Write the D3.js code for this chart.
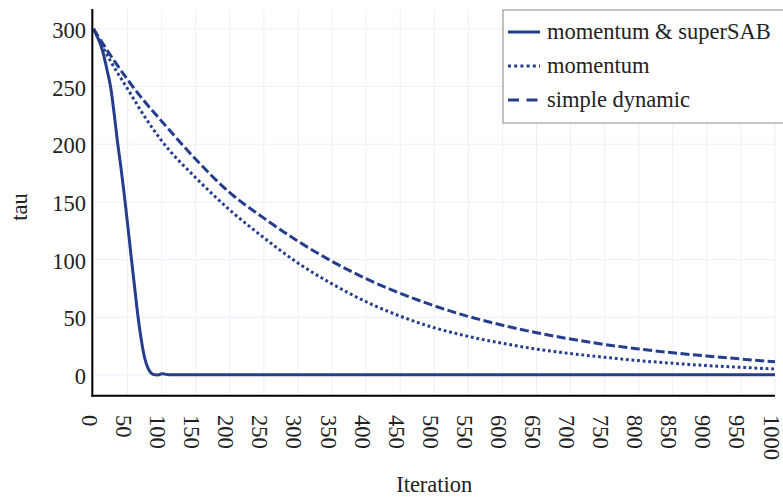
<!DOCTYPE html>
<html>
<head>
<meta charset="utf-8">
<script src="https://cdn.jsdelivr.net/npm/d3@7"></script>
<style>
  html, body { margin: 0; padding: 0; background: #fff; }
</style>
</head>
<body>
<svg id="chart" width="783" height="502" font-family="'Liberation Serif', Tinos, 'Times New Roman', Times, 'Nimbus Roman', 'Nimbus Roman No9 L', FreeSerif, 'Noto Serif', 'DejaVu Serif', serif"></svg>
<script>
// ---- data ----
const seriesNames = ["momentum & superSAB", "momentum", "simple dynamic"];

const superSabIter = [0, 5, 10, 15, 20, 25, 30, 35, 40, 45, 50, 55, 60, 65, 70, 75, 80, 85, 90, 95, 100, 105, 110, 120, 200, 400, 600, 800, 1000];
const superSabTau  = [300, 294, 287, 277, 264, 250, 228, 203, 181, 157, 131, 104, 78, 52, 31, 15, 6, 1.5, 0.2, 0.1, 1.1, 0.8, 0.3, 0.2, 0.2, 0.2, 0.2, 0.2, 0.2];

const iterations   = [0, 25, 50, 75, 100, 150, 200, 250, 300, 350, 400, 450, 500, 550, 600, 650, 700, 750, 800, 850, 900, 950, 1000];
const momentumTau  = [300, 272, 248, 224, 203, 171, 143, 119, 97, 79, 63.5, 51, 41, 33.5, 27.5, 22.5, 18.6, 15.4, 12.5, 10.2, 8.2, 6.7, 5.2];
const dynamicTau   = [300, 277, 256, 237, 220, 187, 158, 136, 116, 98.5, 83.5, 70.8, 60, 50.8, 43.2, 36.7, 31.2, 26.5, 22.6, 19.3, 16.5, 13.9, 11.5];

const xTicks = [0, 50, 100, 150, 200, 250, 300, 350, 400, 450, 500, 550, 600, 650, 700, 750, 800, 850, 900, 950, 1000];
const yTicks = [0, 50, 100, 150, 200, 250, 300];

// ---- layout ----
const svg = d3.select("#chart");
const plotL = 92.3, plotR = 775, plotT = 9, plotB = 395.7;
const color = "#253d8c";
const textColor = "#222";
const fontSize = 22.5;

const x = d3.scaleLinear().domain([0, 1000]).range([93.5, 775]);
const y = d3.scaleLinear().domain([-17.9, 317.2]).range([plotB, plotT]);

// gridlines
const grid = svg.append("g");
grid.selectAll("line.vx").data(xTicks).enter().append("line")
  .attr("x1", d => x(d)).attr("x2", d => x(d))
  .attr("y1", plotT).attr("y2", plotB)
  .attr("stroke", "#ebeff8").attr("stroke-width", 1);
grid.selectAll("line.hy").data(yTicks).enter().append("line")
  .attr("x1", plotL).attr("x2", plotR)
  .attr("y1", d => y(d)).attr("y2", d => y(d))
  .attr("stroke", "#ebeff8").attr("stroke-width", 1);

// curves
const line = d3.line().x(d => x(d[0])).y(d => y(d[1])).curve(d3.curveMonotoneX);
const series = [
  { name: seriesNames[0], pts: d3.zip(superSabIter, superSabTau), dash: null },
  { name: seriesNames[1], pts: d3.zip(iterations, momentumTau), dash: "2.8,2.8" },
  { name: seriesNames[2], pts: d3.zip(iterations, dynamicTau), dash: "9,3.5" }
];
svg.append("clipPath").attr("id", "plotclip").append("rect")
  .attr("x", plotL).attr("y", plotT).attr("width", plotR - plotL + 2).attr("height", plotB - plotT);
svg.append("g").attr("clip-path", "url(#plotclip)")
  .selectAll("path").data(series).enter().append("path")
  .attr("d", d => line(d.pts))
  .attr("fill", "none")
  .attr("stroke", color)
  .attr("stroke-width", 3)
  .attr("stroke-dasharray", d => d.dash);

// axis lines
svg.append("line").attr("x1", plotL).attr("x2", plotL).attr("y1", plotT).attr("y2", plotB + 1)
  .attr("stroke", "#000").attr("stroke-width", 2);
svg.append("line").attr("x1", plotL - 1).attr("x2", plotR).attr("y1", plotB).attr("y2", plotB)
  .attr("stroke", "#000").attr("stroke-width", 2);

// y tick labels
svg.append("g").selectAll("text").data(yTicks).enter().append("text")
  .attr("x", 86).attr("y", d => y(d)).attr("dy", "0.4em")
  .attr("text-anchor", "end").attr("font-size", fontSize).attr("fill", textColor)
  .text(d => d);

// x tick labels (rotated)
svg.append("g").selectAll("text").data(xTicks).enter().append("text")
  .attr("transform", d => `translate(${x(d)},415) rotate(90)`)
  .attr("dy", 11.5)
  .attr("text-anchor", "start").attr("font-size", fontSize).attr("fill", textColor)
  .text(d => d);

// axis titles
svg.append("text").attr("x", (93.5 + 775) / 2).attr("y", 492)
  .attr("text-anchor", "middle").attr("font-size", fontSize).attr("fill", textColor).text("Iteration");
svg.append("text").attr("transform", "translate(26.5,207) rotate(-90)")
  .attr("text-anchor", "middle").attr("font-size", fontSize).attr("fill", textColor).text("tau");

// legend
const lg = svg.append("g");
lg.append("rect").attr("x", 503).attr("y", 10).attr("width", 300).attr("height", 113)
  .attr("fill", "#fff").attr("stroke", "#8a8a8a").attr("stroke-width", 1);
const legendDash = [null, "3,3.2", "11,7.5"];
const items = lg.selectAll("g.item").data(series).enter().append("g")
  .attr("transform", (d, i) => `translate(0,${32 + i * 34})`);
items.append("line").attr("x1", 508).attr("x2", 540).attr("y1", 0).attr("y2", 0)
  .attr("stroke", color).attr("stroke-width", 3)
  .attr("stroke-dasharray", (d, i) => legendDash[i]);
items.append("text").attr("x", 547).attr("y", 0).attr("dy", 7)
  .attr("font-size", fontSize).attr("fill", textColor).text(d => d.name);
</script>
</body>
</html>
